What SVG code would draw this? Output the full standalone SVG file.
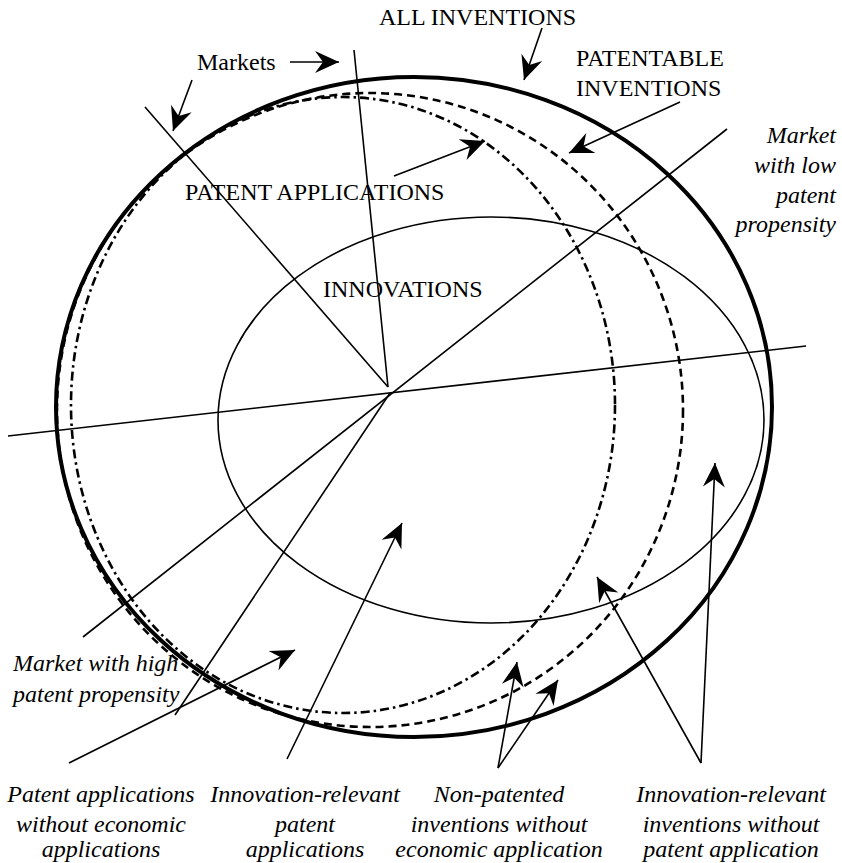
<svg xmlns="http://www.w3.org/2000/svg" width="842" height="863" viewBox="0 0 842 863">
<style>
text{font-size:24px;fill:#000}
.s{font-family:'Liberation Serif','Times New Roman',serif}
.it{font-family:'Liberation Serif','Times New Roman',serif;font-style:italic}
.thin{fill:none;stroke:#000;stroke-width:1.6}
.arr{fill:none;stroke:#000;stroke-width:1.6;marker-end:url(#ah)}
</style>
<defs>
<marker id="ah" markerUnits="userSpaceOnUse" viewBox="-26 -13 28 26" refX="0" refY="0" markerWidth="28" markerHeight="26" orient="auto">
<path d="M0,0 L-24,-11 L-16,0 L-24,11 Z" fill="#000"/>
</marker>
</defs>
<rect width="842" height="863" fill="#fff"/>
<g id="all-inventions">
<ellipse cx="414" cy="407" rx="358" ry="330" fill="none" stroke="#000" stroke-width="4"/>
<text class="s" x="379" y="25">ALL INVENTIONS</text>
</g>
<g id="patentable-inventions">
<ellipse cx="370" cy="410" rx="313" ry="317" fill="none" stroke="#000" stroke-width="2.6" stroke-dasharray="8 5"/>
<text class="s" x="576" y="66">PATENTABLE</text>
<text class="s" x="576" y="96">INVENTIONS</text>
</g>
<g id="patent-applications">
<ellipse cx="343" cy="405" rx="272" ry="308" fill="none" stroke="#000" stroke-width="2.6" stroke-dasharray="9 4 2.5 4"/>
<text class="s" x="185" y="200">PATENT APPLICATIONS</text>
</g>
<g id="innovations">
<ellipse cx="491" cy="420" rx="273" ry="203" class="thin"/>
<text class="s" x="323" y="297">INNOVATIONS</text>
</g>
<g id="markets">
<line x1="145" y1="107" x2="388" y2="387" class="thin"/>
<line x1="354" y1="50" x2="388" y2="387" class="thin"/>
<line x1="727" y1="129" x2="83" y2="637" class="thin"/>
<line x1="8" y1="436" x2="806" y2="346" class="thin"/>
<line x1="390" y1="393" x2="175" y2="715" class="thin"/>
<text class="s" x="197" y="70">Markets</text>
</g>
<g id="label-low">
<text class="it" text-anchor="end" x="836" y="143">Market</text>
<text class="it" text-anchor="end" x="836" y="173">with low</text>
<text class="it" text-anchor="end" x="836" y="203">patent</text>
<text class="it" text-anchor="end" x="836" y="232">propensity</text>
</g>
<g id="label-high">
<text class="it" x="13" y="671">Market with high</text>
<text class="it" x="13" y="702">patent propensity</text>
</g>
<g id="label-pa-noecon">
<text class="it" text-anchor="middle" x="101" y="802">Patent applications</text>
<text class="it" text-anchor="middle" x="101" y="832">without economic</text>
<text class="it" text-anchor="middle" x="101" y="857">applications</text>
</g>
<g id="label-ir-pa">
<text class="it" text-anchor="middle" x="305" y="802">Innovation-relevant</text>
<text class="it" text-anchor="middle" x="305" y="832">patent</text>
<text class="it" text-anchor="middle" x="305" y="857">applications</text>
</g>
<g id="label-np">
<text class="it" text-anchor="middle" x="499" y="802">Non-patented</text>
<text class="it" text-anchor="middle" x="499" y="832">inventions without</text>
<text class="it" text-anchor="middle" x="499" y="857">economic application</text>
</g>
<g id="label-ir-inv">
<text class="it" text-anchor="middle" x="731" y="802">Innovation-relevant</text>
<text class="it" text-anchor="middle" x="731" y="832">inventions without</text>
<text class="it" text-anchor="middle" x="731" y="857">patent application</text>
</g>
<g id="connectors">
<line x1="290" y1="62" x2="339" y2="62" class="arr"/>
<line x1="192" y1="80" x2="173" y2="131" class="arr"/>
<line x1="542" y1="28" x2="524" y2="80" class="arr"/>
<line x1="680" y1="102" x2="569" y2="153" class="arr"/>
<line x1="394" y1="176" x2="485" y2="141" class="arr"/>
<line x1="69" y1="763" x2="295" y2="650" class="arr"/>
<line x1="287" y1="759" x2="402" y2="523" class="arr"/>
<line x1="498" y1="768" x2="517" y2="662" class="arr"/>
<line x1="498" y1="768" x2="558" y2="680" class="arr"/>
<line x1="701" y1="763" x2="597" y2="577" class="arr"/>
<line x1="701" y1="763" x2="715" y2="463" class="arr"/>
</g>
</svg>
